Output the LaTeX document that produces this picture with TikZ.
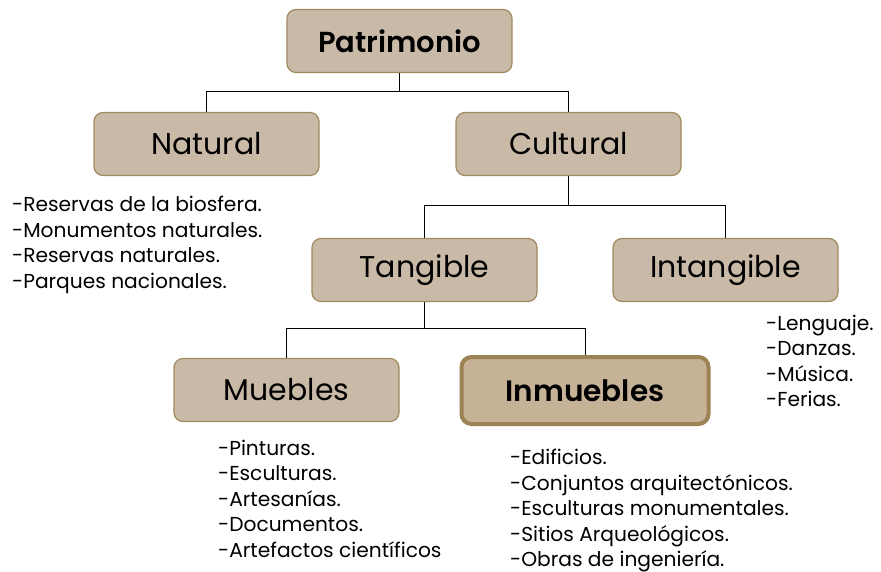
\documentclass[tikz,border=0pt]{standalone}
\usepackage{fontspec}
\setmainfont{Poppins}
\newfontfamily\boldf{Poppins SemiBold}
\definecolor{boxfill}{HTML}{C9BAA8}
\definecolor{boxline}{HTML}{A08A60}
\definecolor{hifill}{HTML}{C6B397}
\definecolor{hiline}{HTML}{9C8254}
\tikzset{
  cbox/.style={draw=boxline, line width=1.2pt, fill=boxfill, rounded corners=9pt,
    minimum width=225pt, minimum height=63pt, inner sep=0pt, font=\fontsize{30}{36}\selectfont},
  hbox/.style={draw=hiline, line width=4pt, fill=hifill, rounded corners=10pt,
    minimum width=247pt, minimum height=67pt, inner sep=0pt, font=\boldf\fontsize{29.5}{36}\selectfont},
  conn/.style={draw=black, line width=1pt},
  listtext/.style={anchor=base west, align=left, inner sep=0pt, font=\fontsize{20.2}{25.5}\selectfont}
}
\begin{document}
\begin{tikzpicture}[x=1pt,y=-1pt]
\useasboundingbox[fill=white] (0,0) rectangle (881,572);
\node[cbox, font=\boldf\fontsize{29}{36}\selectfont] (pat) at (399.5,41) {Patrimonio};
\node[cbox] (nat) at (206.5,144) {Natural};
\node[cbox] (cul) at (568.5,144) {Cultural};
\node[cbox] (tan) at (424.5,270) {Tangible};
\node[cbox] (int) at (725.5,270) {Intangible};
\node[cbox] (mue) at (286.5,390) {Muebles};
\node[hbox] (inm) at (585,390.5) {Inmuebles};
\draw[conn] (pat.south) -- ++(0,18.5) -| (nat.north);
\draw[conn] (pat.south) -- ++(0,18.5) -| (cul.north);
\draw[conn] (cul.south) -- ++(0,29.5) -| (tan.north);
\draw[conn] (cul.south) -- ++(0,29.5) -| (int.north);
\draw[conn] (tan.south) -- ++(0,26.5) -| (mue.north);
\draw[conn] (tan.south) -- ++(0,26.5) -| (inm.north);
\node[listtext] (l1) at (12,288) {-Reservas de la biosfera.\\-Monumentos naturales.\\-Reservas naturales.\\-Parques nacionales.};
\node[listtext] (l2) at (766,406.5) {-Lenguaje.\\-Danzas.\\-Música.\\-Ferias.};
\node[listtext] (l3) at (218,557) {-Pinturas.\\-Esculturas.\\-Artesanías.\\-Documentos.\\-Artefactos científicos};
\node[listtext] (l4) at (510,566.5) {-Edificios.\\-Conjuntos arquitectónicos.\\-Esculturas monumentales.\\-Sitios Arqueológicos.\\-Obras de ingeniería.};
\end{tikzpicture}
\end{document}
